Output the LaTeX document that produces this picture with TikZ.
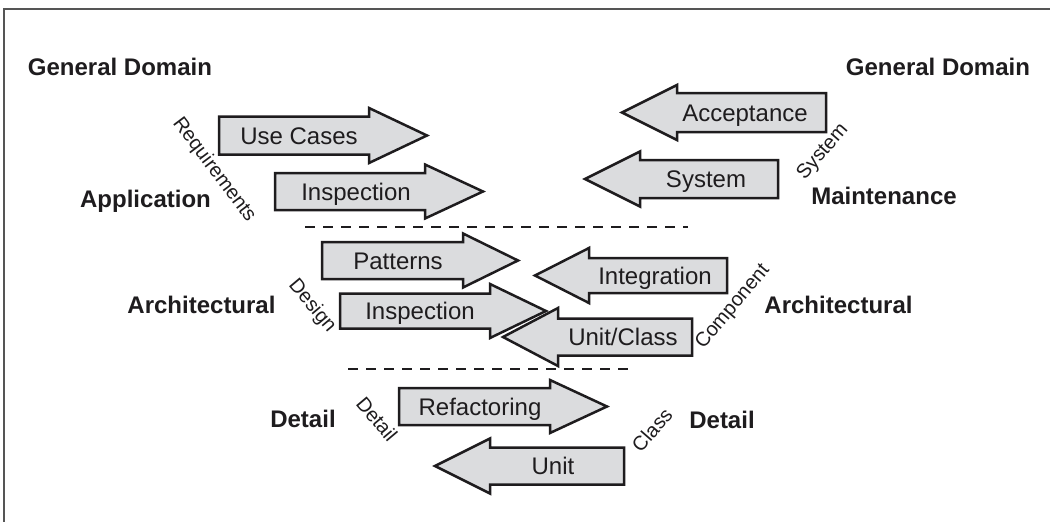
\documentclass[tikz,border=0pt]{standalone}
\usepackage{fontspec}
\setmainfont{Liberation Sans}
\definecolor{fillg}{RGB}{219,220,222}
\definecolor{ink}{RGB}{30,28,30}
\definecolor{framec}{RGB}{85,85,85}
\newcommand\ShapeArrow[9]{%
  \draw[arrowsty] (#2,#5-#6) -- (#3,#5-#6) -- (#3,#5-#7) -- (#4,#5) -- (#3,#5+#7) -- (#3,#5+#6) -- (#2,#5+#6) -- cycle;
  \node[arrtxt] (#1) at (#9,#5+8.5) {#8};}
\begin{document}
\begin{tikzpicture}[x=1pt,y=-1pt,
  arrowsty/.style={draw=ink,line width=2.5pt,fill=fillg,line join=miter},
  arrtxt/.style={anchor=base,inner sep=0pt,text=ink,font=\fontsize{24}{28}\selectfont},
  lvl/.style={anchor=base,inner sep=0pt,text=ink,font=\fontsize{24}{28}\selectfont\bfseries},
  side/.style={inner sep=0pt,text=ink,font=\fontsize{20}{24}\selectfont},
  sep/.style={draw=ink,line width=2pt,dash pattern=on 10pt off 8pt}]
\useasboundingbox (0,0) rectangle (1050,522);
% frame
\draw[framec,line width=2pt] (4,522) -- (4,9) -- (1050,9);
% level labels
\node[lvl] (gdl) at (120,75) {General Domain};
\node[lvl] (gdr) at (938,75) {General Domain};
\node[lvl] (appl) at (145.5,207) {Application};
\node[lvl] (maint) at (884,204) {Maintenance};
\node[lvl] (archl) at (201.5,313) {Architectural};
\node[lvl] (archr) at (838.5,313) {Architectural};
\node[lvl] (detl) at (303,427) {Detail};
\node[lvl] (detr) at (722,428) {Detail};
% side labels
\node[side,rotate=-53] (req) at (214,170) {Requirements};
\node[side,rotate=49] (sys) at (823,152) {System};
\node[side,rotate=-50] (des) at (312,306) {Design};
\node[side,rotate=50] (comp) at (733,307) {Component};
\node[side,rotate=-50] (detsm) at (377,419) {Detail};
\node[side,rotate=49] (cls) at (652,430) {Class};
% separators
\coordinate (s1a) at (305,227); \coordinate (s1b) at (688,227);
\coordinate (s2a) at (348,369); \coordinate (s2b) at (634,369);
\draw[sep] (s1a) -- (s1b);
\draw[sep] (s2a) -- (s2b);
% arrows
\ShapeArrow{usecases}{219}{369}{427}{135.5}{19}{27.5}{Use Cases}{299}
\ShapeArrow{insp1}{275}{425}{483}{191.5}{18.5}{27}{Inspection}{356}
\ShapeArrow{accept}{826}{677}{622}{112.5}{19.5}{27.5}{Acceptance}{745}
\ShapeArrow{system}{778}{640}{585}{179}{19}{27.5}{System}{706}
\ShapeArrow{patterns}{322}{463}{518}{260.5}{18.5}{27}{Patterns}{398}
\ShapeArrow{insp2}{340}{490}{546}{311}{17.5}{27}{Inspection}{420}
\ShapeArrow{integ}{727}{589}{535}{275.5}{17.5}{27.5}{Integration}{655}
\ShapeArrow{unitcls}{692}{558}{503}{337}{18.5}{29}{Unit/Class}{623}
\ShapeArrow{refact}{399}{550}{607}{406.5}{18.5}{26.5}{Refactoring}{480}
\ShapeArrow{unit}{624}{490}{435}{466}{18.5}{27.5}{Unit}{553}
\end{tikzpicture}
\end{document}
